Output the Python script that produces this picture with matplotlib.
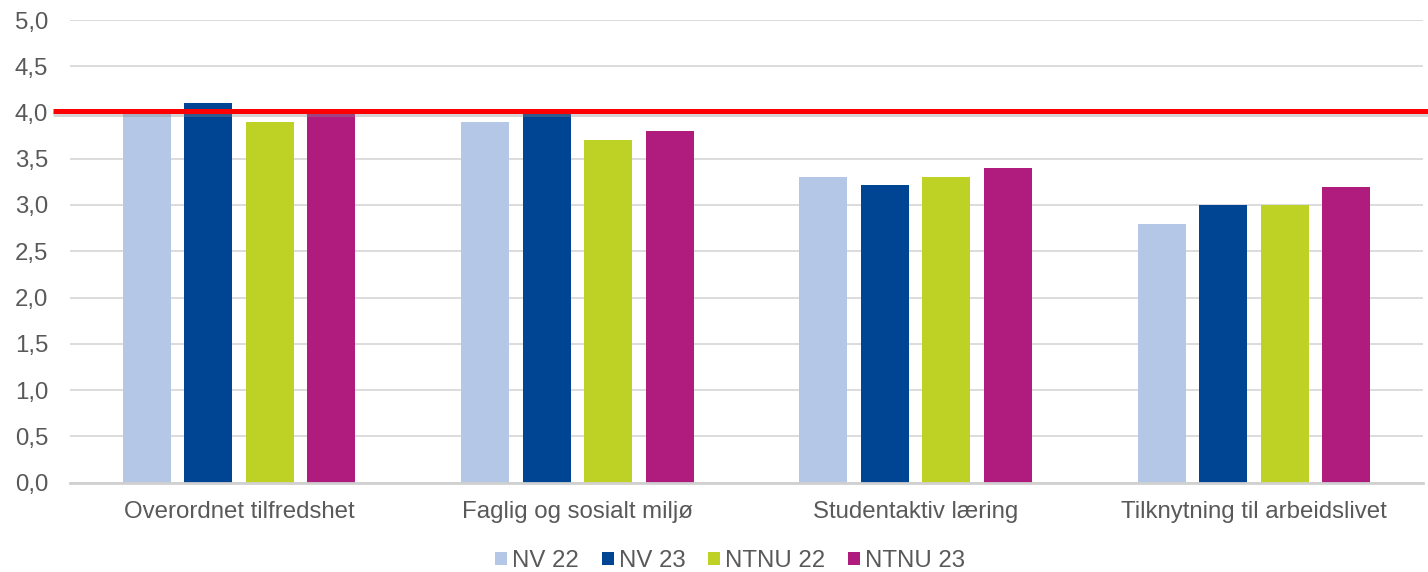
import matplotlib
matplotlib.use("Agg")
import matplotlib.pyplot as plt
import matplotlib.transforms as mtransforms
import matplotlib.patheffects as pe
from matplotlib.patches import Patch
import numpy as np

plt.rcParams['font.family'] = ['Liberation Sans', 'DejaVu Sans']

categories = ["Overordnet tilfredshet", "Faglig og sosialt miljø",
              "Studentaktiv læring", "Tilknytning til arbeidslivet"]
series_names = ["NV 22", "NV 23", "NTNU 22", "NTNU 23"]
nv22 = [4.0, 3.9, 3.3, 2.8]
nv23 = [4.1, 4.0, 3.22, 3.0]
ntnu22 = [3.9, 3.7, 3.3, 3.0]
ntnu23 = [4.0, 3.8, 3.4, 3.2]
reference_value = 4.02
yticks = [0.0, 0.5, 1.0, 1.5, 2.0, 2.5, 3.0, 3.5, 4.0, 4.5, 5.0]

colors = ["#B4C7E7", "#004494", "#BED125", "#B01C7E"]
text_color = "#595959"
fs = 17.3

fig = plt.figure(figsize=(14.28, 5.72), dpi=100)
ax = fig.add_axes([70/1428, 1-482.5/572, (1423-70)/1428, (482.5-20)/572])

x = np.arange(len(categories))
width = 0.142
pitch = 0.182
allseries = [nv22, nv23, ntnu22, ntnu23]
for i, (vals, c) in enumerate(zip(allseries, colors)):
    ax.bar(x + (i - 1.5) * pitch, vals, width, color=c, zorder=2, label=series_names[i])

ax.set_xlim(-0.5, len(categories) - 0.5)
ax.set_ylim(0, 5.0)
ax.set_yticks(yticks)
ax.set_yticklabels([f"{v:.1f}".replace(".", ",") for v in yticks])
ax.set_xticks(x)
ax.set_xticklabels(categories)
ax.tick_params(axis='both', length=0, labelsize=fs, colors=text_color)
ax.tick_params(axis='y', pad=15.8)
ax.tick_params(axis='x', pad=13)
ax.yaxis.grid(True, color="#D9D9D9", lw=1.3, zorder=0)
ax.set_axisbelow(True)
for s in ["top", "right", "left"]:
    ax.spines[s].set_visible(False)
ax.spines["bottom"].set_color("#D0D0D0")
ax.spines["bottom"].set_linewidth(2)
ax.spines["bottom"].set_zorder(3)

trans = mtransforms.blended_transform_factory(ax.transAxes, ax.transData)
ax.plot([-17/1353, 1.004], [reference_value, reference_value], transform=trans,
        color="#FF0000", lw=3.6, clip_on=False, zorder=5, solid_capstyle='butt',
        path_effects=[pe.SimpleLineShadow(offset=(0, -2.5), shadow_color="#888888", alpha=0.35),
                      pe.Normal()])

handles = [Patch(facecolor=c, edgecolor='none') for c in colors]
leg = fig.legend(handles, series_names, loc='center', bbox_to_anchor=(730/1428, 1-561/572),
                 ncol=4, frameon=False, fontsize=fs, handlelength=0.5, handleheight=0.5,
                 handletextpad=0.2, columnspacing=0.95)
for t in leg.get_texts():
    t.set_color(text_color)

fig.savefig("out.png", dpi=100)
